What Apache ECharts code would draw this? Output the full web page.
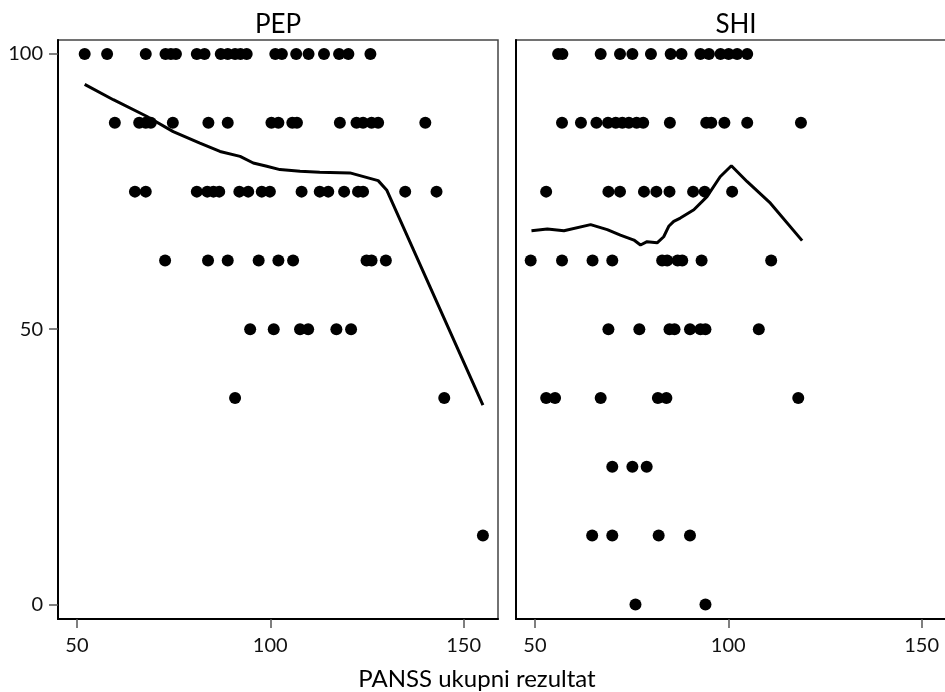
<!DOCTYPE html>
<html>
<head>
<meta charset="utf-8">
<script src="https://cdn.jsdelivr.net/npm/echarts@6/dist/echarts.min.js"></script>
<style>
html,body{margin:0;padding:0;background:#fff;overflow:hidden;}
#chart{width:960px;height:692px;}
</style>
</head>
<body>
<div id="chart"></div>
<script>
// ---- data ----
const panelTitles = ['PEP', 'SHI'];
const xAxisTitle = 'PANSS ukupni rezultat';
const xTicks = [50, 100, 150];
const yTicks = [0, 50, 100];
const levels = [100, 87.5, 75, 62.5, 50, 37.5, 25, 12.5, 0];

// x values (PANSS) of the points at each y level, same order as `levels`
const pepXs = [
  [52.0, 57.8, 67.8, 72.9, 74.3, 75.6, 81.0, 83.0, 87.2, 89.0, 90.9, 92.3, 93.9, 101.3, 103.0, 106.7, 109.9, 113.9, 117.8, 120.2, 125.9],
  [59.8, 66.1, 67.8, 69.1, 74.8, 84.0, 89.0, 100.3, 102.1, 105.7, 106.9, 118.0, 122.3, 124.0, 126.2, 127.9, 140.1],
  [65.0, 67.8, 81.0, 83.7, 85.3, 86.8, 92.0, 94.3, 97.8, 99.9, 108.1, 112.8, 115.0, 119.1, 122.7, 124.0, 134.9, 143.0],
  [72.8, 83.9, 89.0, 97.0, 102.1, 105.9, 124.9, 126.2, 129.9],
  [94.8, 100.9, 107.7, 109.8, 117.1, 120.9],
  [90.9, 145.0],
  [],
  [155.0],
  []
];
const shiXs = [
  [56.0, 57.1, 67.0, 72.0, 75.2, 80.0, 85.1, 87.9, 92.8, 95.0, 98.0, 100.1, 102.3, 104.9],
  [57.0, 61.9, 65.9, 68.9, 70.9, 72.6, 74.3, 76.3, 78.0, 84.9, 94.3, 95.6, 99.0, 104.9, 118.8],
  [52.9, 69.0, 72.0, 78.2, 81.4, 84.8, 90.9, 93.9, 101.0],
  [48.9, 57.0, 64.9, 70.0, 82.9, 84.2, 86.9, 88.1, 93.1, 111.1],
  [69.0, 77.0, 84.8, 86.1, 90.1, 92.8, 94.1, 107.9],
  [52.9, 55.2, 67.0, 81.8, 84.0, 118.1],
  [70.0, 75.2, 78.9],
  [64.8, 70.0, 82.0, 90.1],
  [76.0, 94.1]
];

// smoothed (lowess) curves
const pepLoessX = [52.0, 59.4, 68.0, 74.9, 81.8, 87.0, 92.2, 95.6, 99.1, 102.5, 107.7, 112.8, 120.6, 127.9, 130.1, 155.0];
const pepLoessY = [94.5, 91.7, 88.7, 85.9, 83.8, 82.3, 81.4, 80.2, 79.6, 79.0, 78.7, 78.5, 78.4, 77.0, 75.3, 36.2];
const shiLoessX = [49.1, 53.2, 57.5, 64.4, 68.7, 72.1, 75.6, 77.3, 79.0, 81.6, 83.3, 84.6, 85.9, 87.6, 91.1, 94.5, 97.9, 100.8, 104.9, 110.9, 119.1];
const shiLoessY = [67.9, 68.2, 67.9, 69.0, 68.1, 67.1, 66.2, 65.3, 65.9, 65.7, 66.8, 68.7, 69.6, 70.2, 71.7, 74.1, 77.7, 79.7, 76.8, 72.9, 66.1];

// ---- build chart ----
function points(xsByLevel) {
  const out = [];
  xsByLevel.forEach((xs, i) => xs.forEach(x => out.push([x, levels[i]])));
  return out;
}
function pairs(xs, ys) { return xs.map((x, i) => [x, ys[i]]); }

const FONT = 'Lato';
const grids = [
  {left: 58, top: 40, width: 440, height: 579},
  {left: 516, top: 40, width: 440, height: 579}
];

function xAxis(i) {
  return {
    gridIndex: i, type: 'value', min: 45.1, max: 158.9,
    axisLine: {show: true, onZero: false, lineStyle: {color: '#000', width: 2}},
    axisTick: {show: true, length: 9, customValues: xTicks, lineStyle: {color: '#555', width: 1.5}},
    axisLabel: {customValues: xTicks, fontFamily: FONT, fontSize: 20, color: '#111', margin: 17},
    splitLine: {show: false}
  };
}
function yAxis(i) {
  return {
    gridIndex: i, type: 'value', min: -2.65, max: 102.55,
    axisLine: {show: true, onZero: false, lineStyle: {color: '#000', width: 2}},
    axisTick: {show: i === 0, length: 9, customValues: yTicks, lineStyle: {color: '#555', width: 1.5}},
    axisLabel: {show: i === 0, customValues: yTicks, fontFamily: FONT, fontSize: 20, color: '#111', margin: 15},
    splitLine: {show: false}
  };
}

const chart = echarts.init(document.getElementById('chart'), null, {renderer: 'canvas'});
chart.setOption({
  animation: false,
  backgroundColor: '#fff',
  grid: grids.map(g => Object.assign({show: true, borderColor: '#444', borderWidth: 1.5, backgroundColor: 'transparent'}, g)),
  xAxis: [xAxis(0), xAxis(1)],
  yAxis: [yAxis(0), yAxis(1)],
  graphic: [
    {type: 'text', x: 278, y: 25, style: {text: panelTitles[0], font: '26px Lato', fill: '#000', align: 'center', verticalAlign: 'middle'}},
    {type: 'text', x: 736, y: 25, style: {text: panelTitles[1], font: '26px Lato', fill: '#000', align: 'center', verticalAlign: 'middle'}},
    {type: 'text', x: 477, y: 679, style: {text: xAxisTitle, font: '24px Lato', fill: '#000', align: 'center', verticalAlign: 'middle'}}
  ],
  series: [
    {type: 'scatter', xAxisIndex: 0, yAxisIndex: 0, data: points(pepXs), symbol: 'circle', symbolSize: 12, itemStyle: {color: '#000', opacity: 1}},
    {type: 'scatter', xAxisIndex: 1, yAxisIndex: 1, data: points(shiXs), symbol: 'circle', symbolSize: 12, itemStyle: {color: '#000', opacity: 1}},
    {type: 'line', xAxisIndex: 0, yAxisIndex: 0, data: pairs(pepLoessX, pepLoessY), showSymbol: false, lineStyle: {color: '#000', width: 3}},
    {type: 'line', xAxisIndex: 1, yAxisIndex: 1, data: pairs(shiLoessX, shiLoessY), showSymbol: false, lineStyle: {color: '#000', width: 3}}
  ]
});
</script>
</body>
</html>
